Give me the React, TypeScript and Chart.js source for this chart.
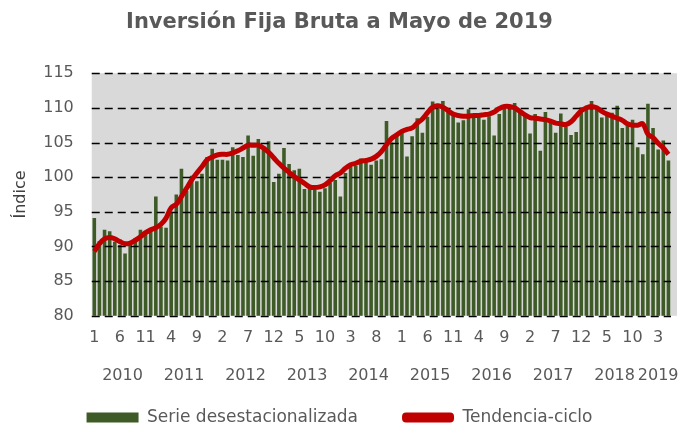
import React, { useEffect, useRef } from 'react';
import { Chart, registerables } from 'chart.js';

Chart.register(...registerables);

const years = ['2010', '2011', '2012', '2013', '2014', '2015', '2016', '2017', '2018', '2019'];
const monthsInLastYear = 5;

const serieDesestacionalizada = [
  94.1, 90.8, 92.4, 92.2, 90.7, 90.2, 89.0, 90.2, 90.7, 92.4, 91.9, 92.4,
  97.2, 92.9, 92.7, 95.0, 97.5, 101.2, 98.0, 100.2, 99.4, 100.5, 102.9, 104.1,
  102.5, 102.5, 102.4, 104.3, 103.2, 102.9, 106.0, 103.1, 105.5, 104.5, 105.2, 99.3,
  100.5, 104.2, 101.9, 101.0, 101.2, 98.3, 98.4, 98.2, 97.9, 98.4, 99.2, 99.6,
  97.2, 100.6, 101.5, 101.6, 102.7, 102.2, 101.8, 102.4, 102.6, 108.1, 105.0, 106.2,
  106.8, 103.0, 105.9, 108.5, 106.4, 108.7, 110.9, 110.6, 111.0, 109.4, 108.9, 107.9,
  108.2, 109.8, 108.8, 108.6, 108.3, 108.8, 106.0, 109.1, 110.1, 110.0, 110.7, 109.5,
  108.9, 106.3, 109.1, 103.8, 109.4, 108.3, 106.4, 109.2, 107.3, 106.1, 106.5, 110.1,
  110.3, 111.0, 110.0, 108.6, 109.0, 109.3, 110.3, 107.1, 107.6, 108.3, 104.3, 103.3,
  110.6, 107.1, 104.0, 105.3, 102.4,
];

const tendenciaCiclo = [
  89.3, 90.4, 91.1, 91.3, 91.1, 90.7, 90.4, 90.5, 90.9, 91.4, 92.0, 92.4,
  92.7, 93.2, 94.1, 95.6, 96.1, 97.2, 98.4, 99.6, 100.6, 101.5, 102.5, 102.9,
  103.2, 103.3, 103.3, 103.5, 103.8, 104.2, 104.6, 104.6, 104.6, 104.2, 103.6, 102.8,
  102.0, 101.3, 100.7, 100.1, 99.6, 99.1, 98.6, 98.5, 98.6, 98.9, 99.5, 100.2,
  100.6, 101.3, 101.8, 102.0, 102.3, 102.4, 102.6, 103.0, 103.7, 104.7, 105.6, 106.1,
  106.6, 106.9, 107.1, 107.8, 108.4, 109.3, 110.1, 110.3, 110.1, 109.6, 109.1, 108.9,
  108.8, 108.8, 108.9, 108.9, 109.0, 109.1, 109.4, 109.9, 110.2, 110.2, 110.0, 109.5,
  109.0, 108.6, 108.5, 108.4, 108.3, 108.1, 107.8, 107.7, 107.6, 108.0, 108.8, 109.6,
  110.0, 110.2, 110.0, 109.5, 109.1, 108.8, 108.5, 108.2, 107.7, 107.5, 107.5, 107.7,
  106.2, 105.7, 104.9, 104.2, 103.3,
];

const yTicks = { min: 80, max: 115, step: 5 };

const categories: string[] = [];
const monthNumbers: number[] = [];
years.forEach((y, k) => {
  const n = k === years.length - 1 ? monthsInLastYear : 12;
  for (let m = 1; m <= n; m++) {
    categories.push(`${y}-${m}`);
    monthNumbers.push(m);
  }
});

const FONT = 'DejaVu Sans';
const TEXT = '#595959';

const decorPlugin = {
  id: 'decor',
  beforeDatasetsDraw(chart: any) {
    const { ctx, chartArea: a } = chart;
    ctx.save();
    ctx.fillStyle = '#d9d9d9';
    ctx.fillRect(a.left, a.top, a.right - a.left + 6, a.bottom - a.top);
    ctx.restore();
  },
  afterDatasetDraw(chart: any, args: any) {
    if (args.index !== 0) return;
    const { ctx, chartArea: a } = chart;
    const ys = chart.scales.y;
    ctx.save();
    ctx.strokeStyle = '#000000';
    ctx.lineWidth = 1.6;
    ctx.setLineDash([8, 5]);
    ys.ticks.forEach((t: any) => {
      const py = Math.round(ys.getPixelForValue(t.value)) + 0.5;
      ctx.beginPath();
      ctx.moveTo(a.left, py);
      ctx.lineTo(a.right, py);
      ctx.stroke();
    });
    ctx.restore();
  },
  afterDraw(chart: any) {
    const { ctx } = chart;
    const xs = chart.scales.x;
    ctx.save();
    ctx.fillStyle = TEXT;
    ctx.font = `16px "${FONT}"`;
    ctx.textAlign = 'center';
    ctx.textBaseline = 'middle';
    years.forEach((y, k) => {
      const start = k * 12;
      const end = Math.min(start + 11, categories.length - 1);
      const cx = (xs.getPixelForValue(start) + xs.getPixelForValue(end)) / 2;
      ctx.fillText(y, cx, xs.top + 60);
    });
    ctx.restore();
  },
};

export default function App() {
  const ref = useRef<HTMLCanvasElement>(null);
  useEffect(() => {
    if (!ref.current) return;
    const chart = new Chart(ref.current, {
      data: {
        labels: categories,
        datasets: [
          {
            type: 'bar',
            label: 'Serie desestacionalizada',
            data: serieDesestacionalizada,
            backgroundColor: '#3e5b27',
            borderWidth: 0,
            barPercentage: 0.7,
            categoryPercentage: 1,
            order: 1,
          },
          {
            type: 'line',
            label: 'Tendencia-ciclo',
            data: tendenciaCiclo,
            borderColor: '#c00000',
            backgroundColor: '#c00000',
            borderWidth: 5,
            pointRadius: 0,
            tension: 0.4,
            fill: false,
            order: 0,
          },
        ],
      } as any,
      options: {
        animation: false,
        responsive: true,
        maintainAspectRatio: false,
        layout: { padding: { left: 8, right: 12, top: 6, bottom: -7 } },
        plugins: {
          title: {
            display: true,
            text: 'Inversión Fija Bruta a Mayo de 2019',
            color: TEXT,
            font: { family: FONT, size: 21, weight: 'bold' },
            padding: { top: 4, bottom: 38 },
          },
          legend: {
            position: 'bottom',
            labels: {
              color: TEXT,
              font: { family: FONT, size: 17 },
              boxWidth: 52,
              boxHeight: 10,
              padding: 10,
              useBorderRadius: true,
              generateLabels(chart: any) {
                const items = Chart.defaults.plugins.legend.labels.generateLabels(chart);
                items.sort((a: any, b: any) => a.datasetIndex - b.datasetIndex);
                items.forEach((it: any) => {
                  it.lineWidth = 0;
                  it.borderRadius = it.datasetIndex === 1 ? 4 : 0;
                  if (it.datasetIndex === 0) it.text = it.text + '\u2003\u2003';
                });
                return items;
              },
            },
          } as any,
          tooltip: { enabled: false },
        },
        scales: {
          x: {
            grid: { display: false },
            border: { display: false },
            ticks: {
              autoSkip: false,
              maxRotation: 0,
              color: TEXT,
              font: { family: FONT, size: 16 },
              padding: 4,
              callback: (_v: any, i: number) => (i % 5 === 0 ? String(monthNumbers[i]) : ''),
            },
            afterFit(scale: any) {
              scale.height += 48;
            },
          },
          y: {
            min: yTicks.min,
            max: yTicks.max,
            grid: { display: false },
            border: { display: false },
            ticks: {
              stepSize: yTicks.step,
              color: TEXT,
              font: { family: FONT, size: 16 },
              padding: 10,
            },
            title: {
              display: true,
              text: 'Índice',
              color: '#404040',
              font: { family: FONT, size: 16 },
              padding: 3,
            },
          },
        },
      } as any,
      plugins: [decorPlugin],
    });
    return () => chart.destroy();
  }, []);
  return (
    <div style={{ position: 'fixed', left: 0, top: 0, width: 683, height: 429 }}>
      <canvas ref={ref} />
    </div>
  );
}
